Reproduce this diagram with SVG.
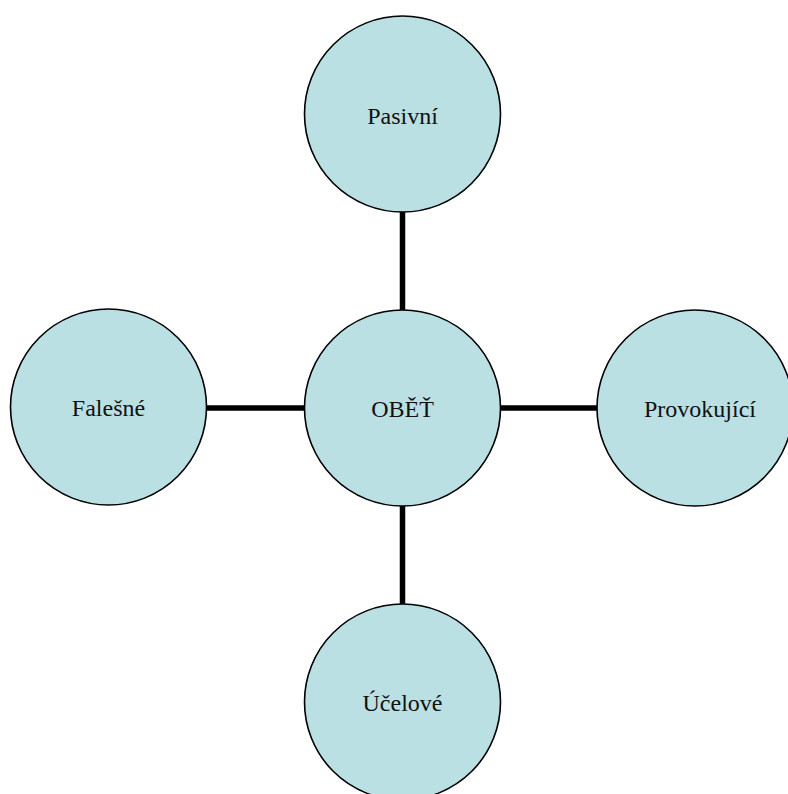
<svg xmlns="http://www.w3.org/2000/svg" width="788" height="794" viewBox="0 0 788 794">
<style>
.node{fill:#BAE0E4;stroke:#000;stroke-width:1.6}
.lbl{font-family:"Liberation Serif","Times New Roman",serif;font-size:24px;fill:#111;text-anchor:middle}
.conn{stroke:#000;stroke-width:5.5;fill:none}
</style>
<rect width="788" height="794" fill="#fff"/>
<g id="connectors">
<line class="conn" x1="402.5" y1="212" x2="402.5" y2="310"/>
<line class="conn" x1="402.5" y1="506" x2="402.5" y2="604"/>
<line class="conn" x1="206" y1="408" x2="304" y2="408"/>
<line class="conn" x1="501" y1="408" x2="597" y2="408"/>
</g>
<g id="node-pasivni"><circle class="node" cx="402.5" cy="114" r="98"/><text class="lbl" x="402.5" y="124">Pasivní</text></g>
<g id="node-obet"><circle class="node" cx="402.5" cy="408" r="98"/><text class="lbl" x="402.5" y="417">OBĚŤ</text></g>
<g id="node-falesne"><circle class="node" cx="108.5" cy="407" r="98"/><text class="lbl" x="108.5" y="416">Falešné</text></g>
<g id="node-provokujici"><circle class="node" cx="695" cy="408" r="98"/><text class="lbl" x="700" y="417">Provokující</text></g>
<g id="node-ucelove"><circle class="node" cx="402.5" cy="702" r="98"/><text class="lbl" x="402.5" y="711">Účelové</text></g>
</svg>
